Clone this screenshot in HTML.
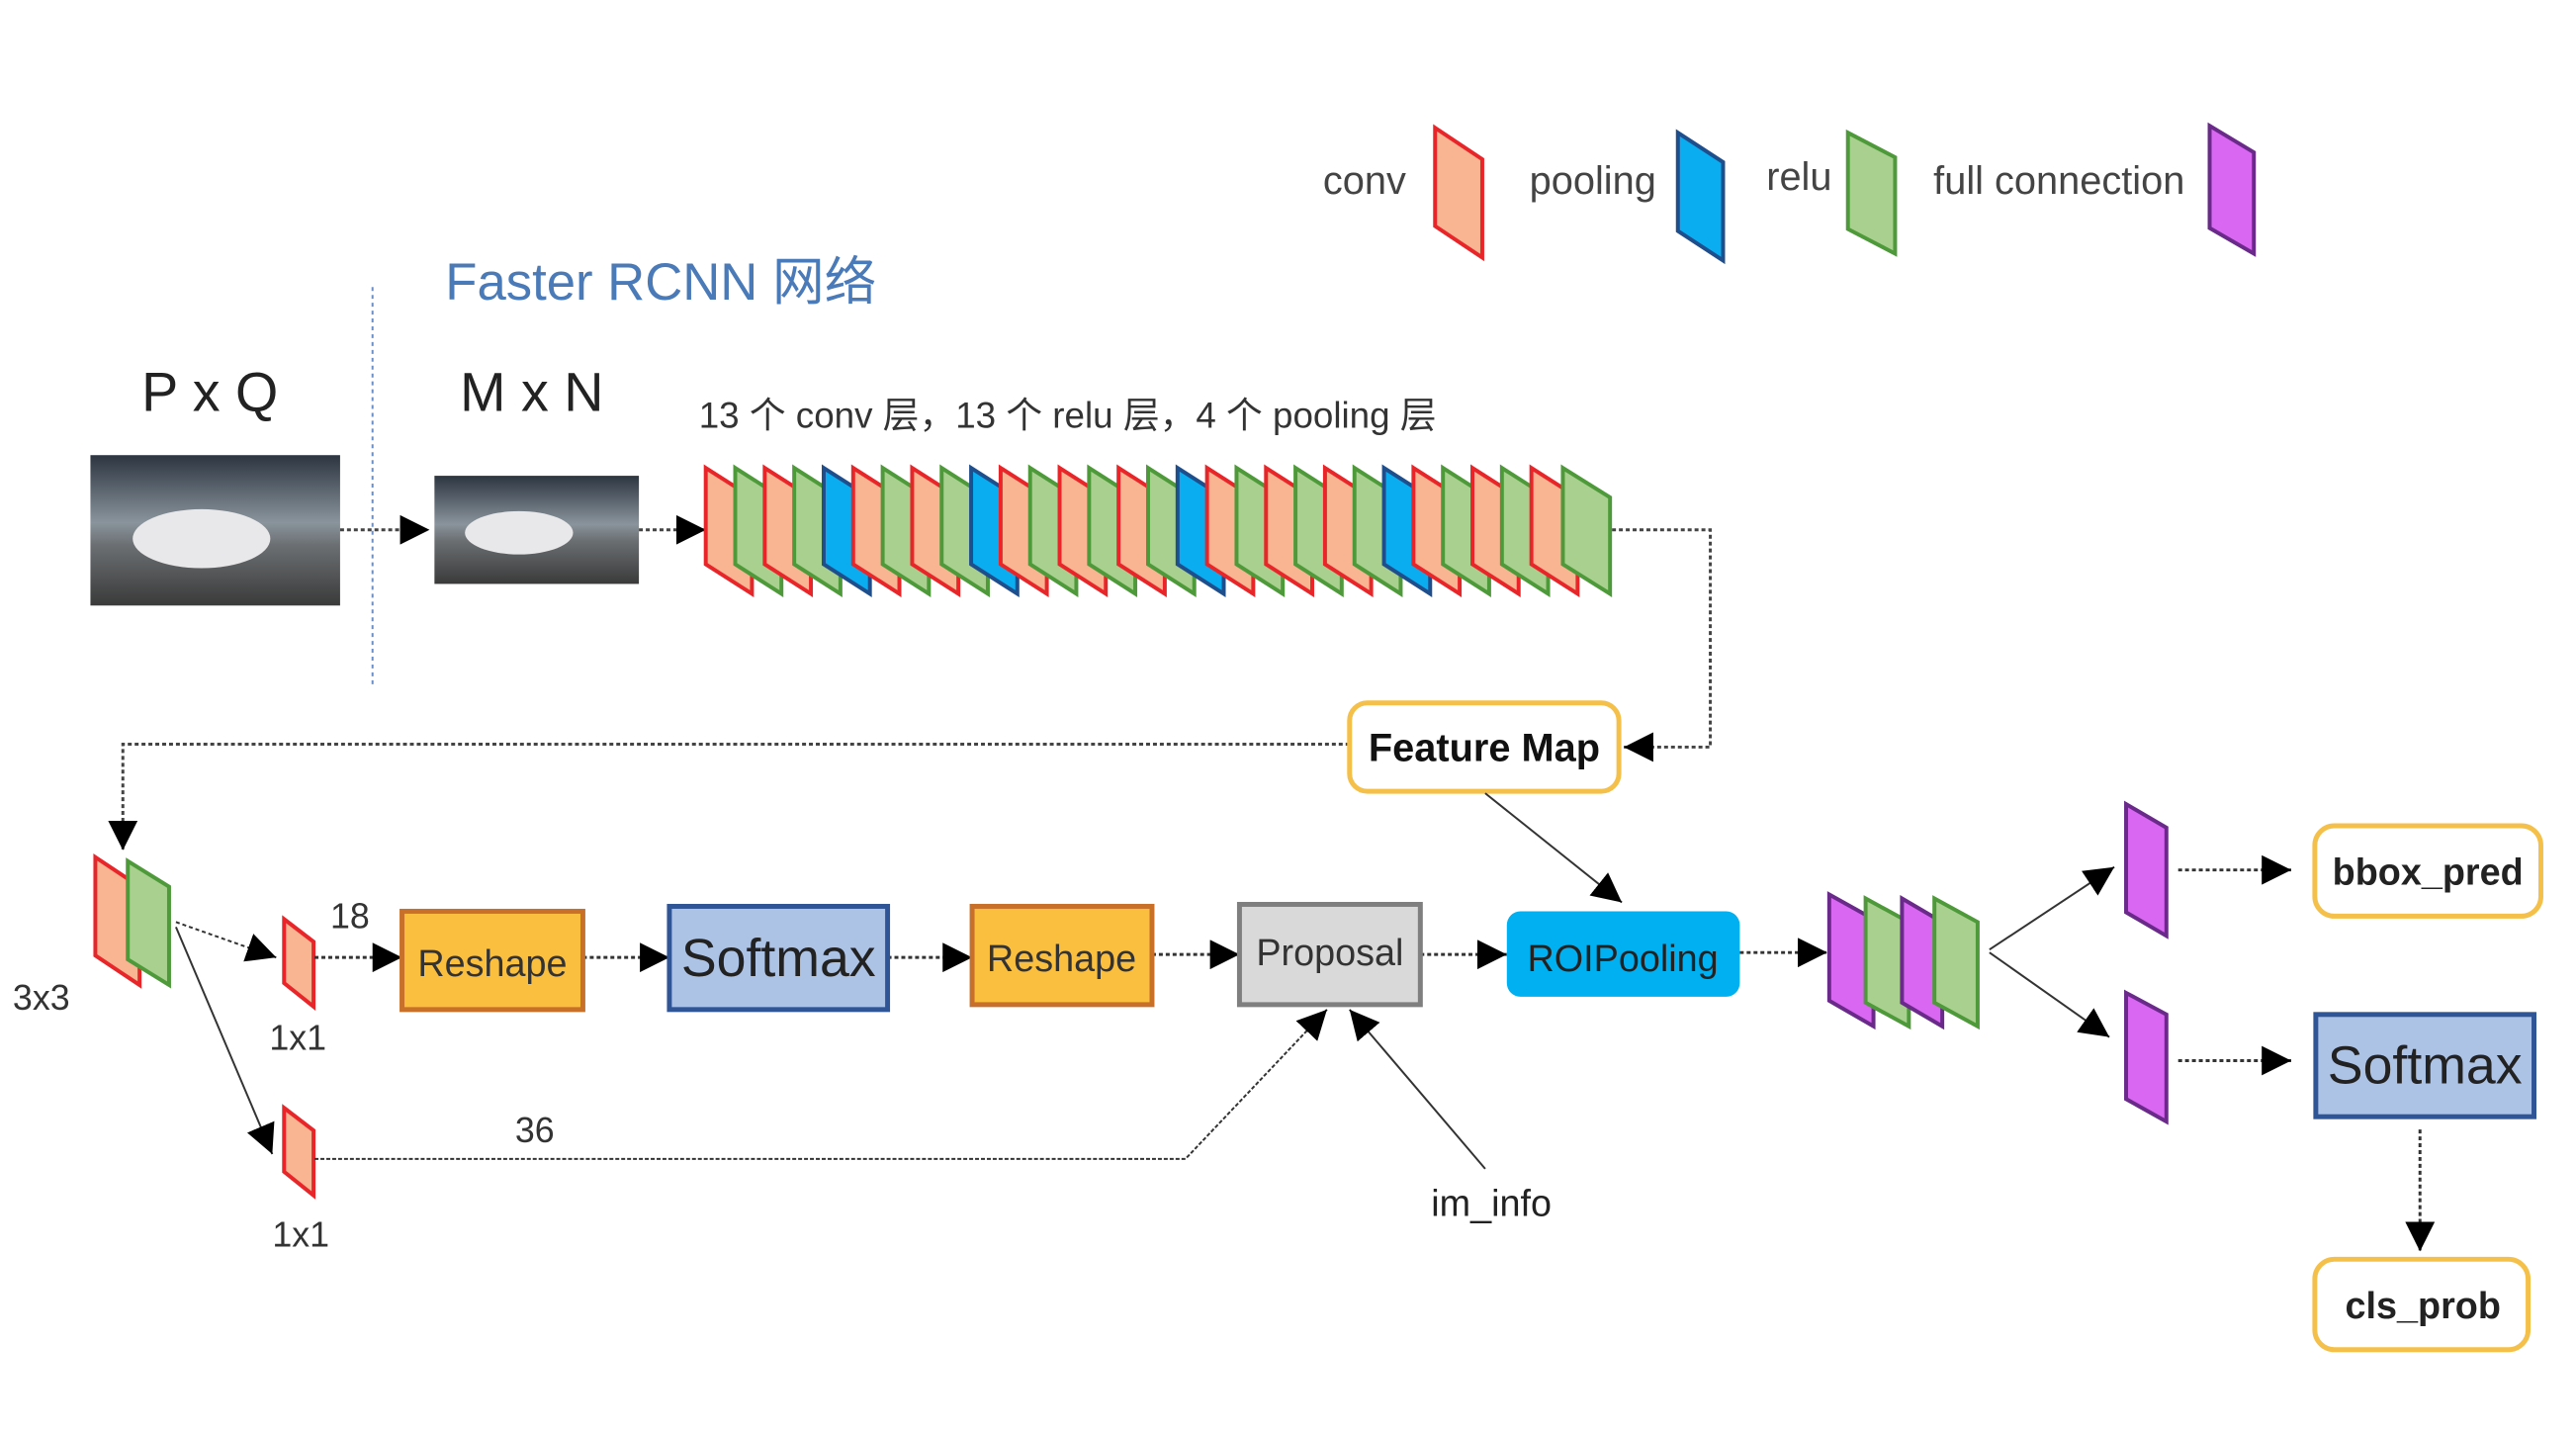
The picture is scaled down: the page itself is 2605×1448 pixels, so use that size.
<!DOCTYPE html>
<html><head><meta charset="utf-8"><style>
html,body{margin:0;padding:0;background:#fff;}
svg{display:block;}
text{font-family:"Liberation Sans","Noto Sans CJK SC",sans-serif;}
</style></head><body>
<svg width="2605" height="1448" viewBox="0 0 2605 1448" xmlns="http://www.w3.org/2000/svg">
<defs>
<marker id="a" viewBox="0 0 10 10" refX="10" refY="5" markerWidth="30" markerHeight="30" markerUnits="userSpaceOnUse" orient="auto"><path d="M0,0 L10,5 L0,10 z" fill="#000"/></marker>
<linearGradient id="sky" x1="0" y1="0" x2="0" y2="1">
<stop offset="0" stop-color="#2c3540"/><stop offset="0.45" stop-color="#8a949c"/><stop offset="0.6" stop-color="#6b6f72"/><stop offset="1" stop-color="#3a3a3a"/></linearGradient>
</defs>
<g transform="scale(0.994)">
<g id="legend" font-size="40" fill="#444">
<text x="1346" y="197">conv</text>
<polygon points="1460,130 1508,162 1508,262 1460,230" fill="#f9b592" stroke="#e8262a" stroke-width="4"/>
<text x="1556" y="197">pooling</text>
<polygon points="1707,135 1753,165 1753,265 1707,235" fill="#0aaef0" stroke="#1f4e8c" stroke-width="4"/>
<text x="1797" y="193">relu</text>
<polygon points="1880,135 1928,160 1928,258 1880,233" fill="#a9d08e" stroke="#4e9a3a" stroke-width="4"/>
<text x="1967" y="197">full connection</text>
<polygon points="2248,128 2293,155 2293,258 2248,232" fill="#d967f2" stroke="#6a2a8a" stroke-width="4"/>
</g>
<text x="453" y="305" font-size="53" fill="#4a7ab8">Faster RCNN 网络</text>
<line x1="379" y1="292" x2="379" y2="698" stroke="#6a8fc8" stroke-width="2" stroke-dasharray="4,4"/>
<text x="144" y="418" font-size="56" fill="#222">P x Q</text>
<text x="468" y="418" font-size="56" fill="#222">M x N</text>
<text x="711" y="435" font-size="37" fill="#333">13 个 conv 层，13 个 relu 层，4 个 pooling 层</text>
<rect x="92" y="463" width="254" height="153" fill="url(#sky)"/>
<ellipse cx="205" cy="548" rx="70" ry="30" fill="#e8e8ea"/>
<rect x="442" y="484" width="208" height="110" fill="url(#sky)"/>
<ellipse cx="528" cy="542" rx="55" ry="22" fill="#e8e8ea"/>
<g stroke="#444" stroke-width="3" stroke-dasharray="4,3" fill="none">
<line x1="346" y1="539" x2="437" y2="539" marker-end="url(#a)"/>
<line x1="650" y1="539" x2="718" y2="539" marker-end="url(#a)"/>
<polyline points="1640,539 1740,539 1740,760 1652,760" marker-end="url(#a)"/>
<polyline points="1373,757 125,757 125,865" marker-end="url(#a)"/>
</g>
<g id="stack" stroke-width="4">
<polygon points="718,476 765,506 765,604 718,574" fill="#f9b592" stroke="#e8262a"/>
<polygon points="748,476 795,506 795,604 748,574" fill="#a9d08e" stroke="#4e9a3a"/>
<polygon points="778,476 825,506 825,604 778,574" fill="#f9b592" stroke="#e8262a"/>
<polygon points="808,476 855,506 855,604 808,574" fill="#a9d08e" stroke="#4e9a3a"/>
<polygon points="838,476 885,506 885,604 838,574" fill="#0aaef0" stroke="#1f4e8c"/>
<polygon points="868,476 915,506 915,604 868,574" fill="#f9b592" stroke="#e8262a"/>
<polygon points="898,476 945,506 945,604 898,574" fill="#a9d08e" stroke="#4e9a3a"/>
<polygon points="928,476 975,506 975,604 928,574" fill="#f9b592" stroke="#e8262a"/>
<polygon points="958,476 1005,506 1005,604 958,574" fill="#a9d08e" stroke="#4e9a3a"/>
<polygon points="988,476 1035,506 1035,604 988,574" fill="#0aaef0" stroke="#1f4e8c"/>
<polygon points="1018,476 1065,506 1065,604 1018,574" fill="#f9b592" stroke="#e8262a"/>
<polygon points="1048,476 1095,506 1095,604 1048,574" fill="#a9d08e" stroke="#4e9a3a"/>
<polygon points="1078,476 1125,506 1125,604 1078,574" fill="#f9b592" stroke="#e8262a"/>
<polygon points="1108,476 1155,506 1155,604 1108,574" fill="#a9d08e" stroke="#4e9a3a"/>
<polygon points="1138,476 1185,506 1185,604 1138,574" fill="#f9b592" stroke="#e8262a"/>
<polygon points="1168,476 1215,506 1215,604 1168,574" fill="#a9d08e" stroke="#4e9a3a"/>
<polygon points="1198,476 1245,506 1245,604 1198,574" fill="#0aaef0" stroke="#1f4e8c"/>
<polygon points="1228,476 1275,506 1275,604 1228,574" fill="#f9b592" stroke="#e8262a"/>
<polygon points="1258,476 1305,506 1305,604 1258,574" fill="#a9d08e" stroke="#4e9a3a"/>
<polygon points="1288,476 1335,506 1335,604 1288,574" fill="#f9b592" stroke="#e8262a"/>
<polygon points="1318,476 1365,506 1365,604 1318,574" fill="#a9d08e" stroke="#4e9a3a"/>
<polygon points="1348,476 1395,506 1395,604 1348,574" fill="#f9b592" stroke="#e8262a"/>
<polygon points="1378,476 1425,506 1425,604 1378,574" fill="#a9d08e" stroke="#4e9a3a"/>
<polygon points="1408,476 1455,506 1455,604 1408,574" fill="#0aaef0" stroke="#1f4e8c"/>
<polygon points="1438,476 1485,506 1485,604 1438,574" fill="#f9b592" stroke="#e8262a"/>
<polygon points="1468,476 1515,506 1515,604 1468,574" fill="#a9d08e" stroke="#4e9a3a"/>
<polygon points="1498,476 1545,506 1545,604 1498,574" fill="#f9b592" stroke="#e8262a"/>
<polygon points="1528,476 1575,506 1575,604 1528,574" fill="#a9d08e" stroke="#4e9a3a"/>
<polygon points="1558,476 1605,506 1605,604 1558,574" fill="#f9b592" stroke="#e8262a"/>
<polygon points="1590,476 1638,506 1638,604 1590,574" fill="#a9d08e" stroke="#4e9a3a"/>
</g>
<rect x="1373" y="715" width="274" height="90" rx="18" fill="#fff" stroke="#f5c04a" stroke-width="5"/>
<text x="1510" y="774" font-size="40" font-weight="bold" text-anchor="middle" fill="#111">Feature Map</text>
<polygon points="97,872 142,902 142,1002 97,972" fill="#f9b592" stroke="#e8262a" stroke-width="4"/>
<polygon points="130,876 172,902 172,1002 130,976" fill="#a9d08e" stroke="#4e9a3a" stroke-width="4"/>
<text x="13" y="1027" font-size="36" fill="#333">3x3</text>
<polygon points="289,935 319,958 319,1024 289,1000" fill="#f9b592" stroke="#e8262a" stroke-width="4"/>
<text x="274" y="1068" font-size="36" fill="#333">1x1</text>
<text x="336" y="944" font-size="36" fill="#333">18</text>
<polygon points="289,1127 319,1150 319,1216 289,1192" fill="#f9b592" stroke="#e8262a" stroke-width="4"/>
<text x="277" y="1268" font-size="36" fill="#333">1x1</text>
<text x="524" y="1162" font-size="36" fill="#333">36</text>
<text x="1456" y="1237" font-size="38" fill="#222">im_info</text>
<g stroke="#333" stroke-width="2" fill="none">
<line x1="179" y1="938" x2="281" y2="974" stroke-dasharray="4,3" marker-end="url(#a)"/>
<line x1="179" y1="943" x2="277" y2="1174" marker-end="url(#a)"/>
<polyline points="320,1179 1206,1179 1350,1027" stroke-dasharray="4,2" marker-end="url(#a)"/>
<line x1="1511" y1="1189" x2="1373" y2="1027" marker-end="url(#a)"/>
<line x1="1511" y1="807" x2="1650" y2="918" marker-end="url(#a)"/>
<line x1="2024" y1="966" x2="2151" y2="882" marker-end="url(#a)"/>
<line x1="2024" y1="969" x2="2146" y2="1055" marker-end="url(#a)"/>
</g>
<g stroke="#333" stroke-width="3" stroke-dasharray="4,3" fill="none">
<line x1="320" y1="974" x2="409" y2="974" marker-end="url(#a)"/>
<line x1="593" y1="974" x2="681" y2="974" marker-end="url(#a)"/>
<line x1="903" y1="974" x2="989" y2="974" marker-end="url(#a)"/>
<line x1="1172" y1="971" x2="1261" y2="971" marker-end="url(#a)"/>
<line x1="1445" y1="971" x2="1533" y2="971" marker-end="url(#a)"/>
<line x1="1770" y1="969" x2="1859" y2="969" marker-end="url(#a)"/>
<line x1="2216" y1="885" x2="2331" y2="885" marker-end="url(#a)"/>
<line x1="2216" y1="1079" x2="2331" y2="1079" marker-end="url(#a)"/>
<line x1="2462" y1="1149" x2="2462" y2="1273" marker-end="url(#a)"/>
</g>
<rect x="409" y="927" width="184" height="100" fill="#fbbf3f" stroke="#c8702a" stroke-width="5"/>
<text x="501" y="993" font-size="38" text-anchor="middle" fill="#333">Reshape</text>
<rect x="681" y="922" width="222" height="105" fill="#adc3e6" stroke="#2f5597" stroke-width="5"/>
<text x="792" y="993" font-size="54" text-anchor="middle" fill="#222">Softmax</text>
<rect x="989" y="922" width="183" height="100" fill="#fbbf3f" stroke="#c8702a" stroke-width="5"/>
<text x="1080" y="988" font-size="38" text-anchor="middle" fill="#333">Reshape</text>
<rect x="1261" y="920" width="184" height="102" fill="#d9d9d9" stroke="#7f7f7f" stroke-width="5"/>
<text x="1353" y="982" font-size="38" text-anchor="middle" fill="#333">Proposal</text>
<rect x="1533" y="927" width="237" height="87" rx="14" fill="#00b0f0"/>
<text x="1651" y="988" font-size="38" text-anchor="middle" fill="#222">ROIPooling</text>
<g stroke-width="4">
<polygon points="1861,910 1906,935 1906,1044 1861,1018" fill="#d967f2" stroke="#6a2a8a"/>
<polygon points="1898,914 1942,938 1942,1044 1898,1020" fill="#a9d08e" stroke="#4e9a3a"/>
<polygon points="1935,914 1976,938 1976,1044 1935,1020" fill="#d967f2" stroke="#6a2a8a"/>
<polygon points="1968,914 2012,938 2012,1044 1968,1020" fill="#a9d08e" stroke="#4e9a3a"/>
<polygon points="2163,818 2204,842 2204,952 2163,928" fill="#d967f2" stroke="#6a2a8a"/>
<polygon points="2163,1010 2204,1032 2204,1141 2163,1118" fill="#d967f2" stroke="#6a2a8a"/>
</g>
<rect x="2355" y="840" width="230" height="92" rx="20" fill="#fff" stroke="#f5c04a" stroke-width="5"/>
<text x="2470" y="900" font-size="38" font-weight="bold" text-anchor="middle" fill="#222">bbox_pred</text>
<rect x="2356" y="1032" width="222" height="104" fill="#adc3e6" stroke="#2f5597" stroke-width="5"/>
<text x="2467" y="1102" font-size="54" text-anchor="middle" fill="#222">Softmax</text>
<rect x="2355" y="1281" width="217" height="92" rx="20" fill="#fff" stroke="#f5c04a" stroke-width="5"/>
<text x="2465" y="1341" font-size="38" font-weight="bold" text-anchor="middle" fill="#222">cls_prob</text>
</g>
</svg>
</body></html>
